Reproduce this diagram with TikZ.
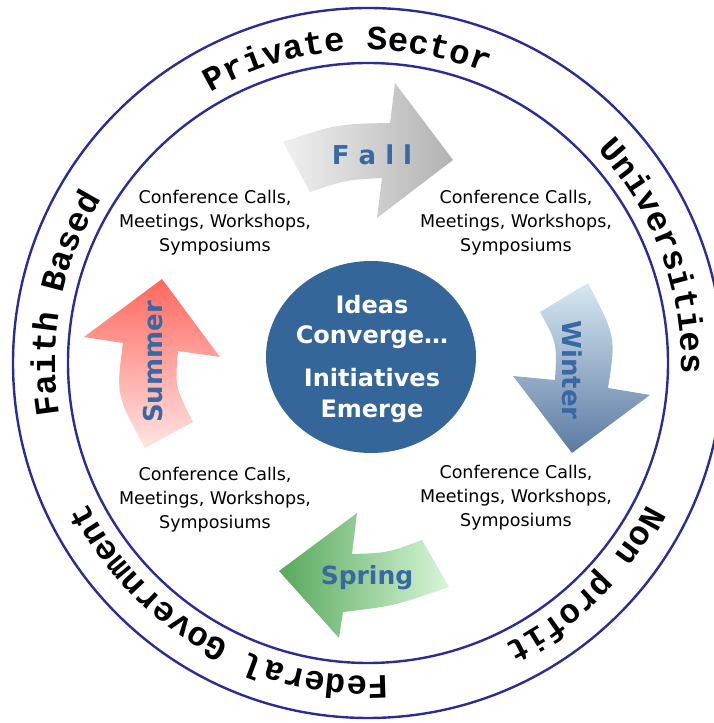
\documentclass[tikz,border=0pt]{standalone}
\usepackage{fontspec}
\setmainfont{DejaVu Sans}
\newfontfamily\ringfont{Liberation Mono}
\usetikzlibrary{decorations.text}
\definecolor{ringblue}{RGB}{44,44,150}
\definecolor{centerblue}{RGB}{52,102,153}
\definecolor{labelblue}{RGB}{58,104,162}
\definecolor{fallL}{RGB}{240,240,240}
\definecolor{fallR}{RGB}{178,178,178}
\definecolor{winT}{RGB}{216,232,243}
\definecolor{winB}{RGB}{92,122,162}
\definecolor{sprL}{RGB}{88,168,92}
\definecolor{sprR}{RGB}{216,246,216}
\definecolor{sumT}{RGB}{255,104,94}
\definecolor{sumB}{RGB}{255,228,228}
\newcommand\ringsty{\ringfont\bfseries\fontsize{34}{40}\selectfont}
\tikzset{
  ringline/.style={draw=ringblue, line width=2.4pt},
  ringtext/.style={decorate, decoration={text along path, text align=center, text={|\ringsty|#1}}},
  infotext/.style={inner sep=0pt, align=center, font=\fontsize{17.5}{24}\selectfont},
  centertext/.style={inner sep=0pt, text=white, font=\bfseries\fontsize{24}{28}\selectfont},
  seasonlabel/.style={inner sep=0pt, text=labelblue, font=\bfseries\fontsize{26}{30}\selectfont}
}
\begin{document}
\begin{tikzpicture}[x=1pt,y=1pt]
\useasboundingbox (0,0) rectangle (713,723);
\coordinate (C) at (368,360);
\path[ringline] (C) circle (355);
\path[ringline] (C) circle (300);

\begin{scope}[shift={(C)}]
  \path[ringtext={Private Sector}] (134:313) arc (134:54:313);
  \path[ringtext={Universities}] (62:313) arc (62:-21:313);
  \path[ringtext={Non profit}] (-5:313) arc (-5:-86:313);
  \path[ringtext={Federal Government}] (-75:313) arc (-75:-165:313);
  \path[ringtext={Faith Based}] (209:313) arc (209:129:313);
\end{scope}

% seasonal arrows
\shade[left color=fallL, right color=fallR] (283,581) .. controls (337,599) .. (390,600) -- (395,640) -- (453,563) -- (377,505) -- (382,545) .. controls (346,543) .. (310,531) -- cycle;
\shade[top color=winT, bottom color=winB] (588,440) .. controls (616,386) .. (608,335) -- (650,328) -- (572,270) -- (513,347) -- (555,343) .. controls (557,380) .. (540,411) -- cycle;
\shade[left color=sprL, right color=sprR] (279,152) -- (357,210) -- (352,169) .. controls (387,170) .. (422,183) -- (449,136) .. controls (394,117) .. (343,111) -- (339,85) -- cycle;
\shade[top color=sumT, bottom color=sumB] (162,444) -- (220,366) -- (178,372) .. controls (175,336) .. (193,301) -- (145,275) .. controls (116,328) .. (123,380) -- (84,386) -- cycle;

\node[seasonlabel] (fall) at (372,568) {F a l l};
\node[seasonlabel, rotate=-90] (winter) at (572,353) {Winter};
\node[seasonlabel, font=\bfseries\fontsize{25}{30}\selectfont] (spring) at (367,145) {Spring};
\node[seasonlabel, rotate=90] (summer) at (153,361) {Summer};

% center
\fill[centerblue] (371,366) ellipse (105 and 96);
\node[centertext] (ideas) at (372,418) {Ideas};
\node[centertext] (converge) at (372,386) {Converge\ldots};
\node[centertext] (initiatives) at (372,345) {Initiatives};
\node[centertext] (emerge) at (372,312) {Emerge};

% activity texts
\node[infotext] (tl) at (215,500) {Conference Calls,\\Meetings, Workshops,\\Symposiums};
\node[infotext] (tr) at (516,500) {Conference Calls,\\Meetings, Workshops,\\Symposiums};
\node[infotext] (bl) at (215,223) {Conference Calls,\\Meetings, Workshops,\\Symposiums};
\node[infotext] (br) at (516,225) {Conference Calls,\\Meetings, Workshops,\\Symposiums};
\end{tikzpicture}
\end{document}
